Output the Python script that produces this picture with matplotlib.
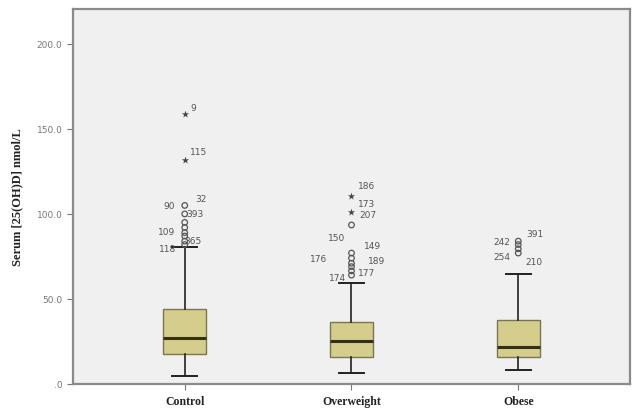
import matplotlib
matplotlib.use("Agg")
import matplotlib.pyplot as plt

# grupos y estadisticos de cada caja
grupos = ["Control", "Overweight", "Obese"]
q1 = [17.5, 16.0, 16.0]
mediana = [27.0, 25.3, 21.8]
q3 = [44.0, 36.5, 37.6]
bigote_inf = [4.5, 6.5, 8.2]
bigote_sup = [80.5, 59.5, 64.7]

# valores atipicos (circulos) y extremos (asteriscos)
atipicos_control = [105.0, 100.0, 95.0, 92.0, 89.0, 87.0, 84.0, 82.0]
atipicos_overweight = [93.5, 77.0, 74.0, 71.0, 69.0, 66.5, 64.0]
atipicos_obese = [84.0, 82.0, 79.5, 77.0]
extremos_control = [158.5, 131.5]
extremos_overweight = [110.5, 101.0]

# etiquetas de casos: (grupo, valor, texto)
casos = [
    (1, 162.5, "9"), (1, 137.0, "115"), (1, 109.0, "32"), (1, 105.0, "90"),
    (1, 100.5, "393"), (1, 89.5, "109"), (1, 84.5, "365"), (1, 79.5, "118"),
    (2, 116.5, "186"), (2, 106.0, "173"), (2, 99.5, "207"), (2, 86.0, "150"),
    (2, 81.5, "149"), (2, 73.5, "176"), (2, 72.5, "189"), (2, 65.5, "177"),
    (2, 62.5, "174"),
    (3, 88.5, "391"), (3, 84.0, "242"), (3, 75.0, "254"), (3, 72.0, "210"),
]
desplaz = {"9": 6, "115": 10, "32": 12, "90": -11, "393": 7, "109": -13,
           "365": 6, "118": -12, "186": 11, "173": 11, "207": 12, "150": -11,
           "149": 15, "176": -24, "189": 18, "177": 11, "174": -10,
           "391": 12, "242": -12, "254": -12, "210": 11}

stats = []
for i in range(3):
    stats.append({"label": grupos[i], "q1": q1[i], "med": mediana[i], "q3": q3[i],
                  "whislo": bigote_inf[i], "whishi": bigote_sup[i], "fliers": []})

fig = plt.figure(figsize=(6.37, 4.10), dpi=100)
ax = fig.add_axes([0.1146, 0.061, 0.8744, 0.9146])
ax.set_facecolor("#f0f0f0")

ax.bxp(stats, positions=[1, 2, 3], widths=0.26, patch_artist=True,
       boxprops=dict(facecolor="#d5cd8c", edgecolor="#7a7650", linewidth=1.0),
       medianprops=dict(color="#33310f", linewidth=2.2),
       whiskerprops=dict(color="#222222", linewidth=1.2),
       capprops=dict(color="#222222", linewidth=1.4), capwidths=0.15)

atipicos = [atipicos_control, atipicos_overweight, atipicos_obese]
for i, vals in enumerate(atipicos):
    ax.scatter([i + 1] * len(vals), vals, marker="o", s=16, facecolors="none",
               edgecolors="#555555", linewidths=0.9, zorder=3)
extremos = [extremos_control, extremos_overweight]
for i, vals in enumerate(extremos):
    ax.scatter([i + 1] * len(vals), vals, marker="*", s=30, color="#444444",
               linewidths=0, zorder=3)

for g, v, t in casos:
    ax.annotate(t, (g, v), xytext=(desplaz[t], 0), textcoords="offset points",
                ha="center", va="center", fontsize=6.5, color="#555555",
                family="DejaVu Sans")

ax.set_xlim(0.33, 3.67)
ax.set_ylim(0, 220.5)
ax.set_yticks([0, 50, 100, 150, 200])
ax.set_yticklabels([".0", "50.0", "100.0", "150.0", "200.0"])
ax.set_xticks([1, 2, 3])
ax.set_xticklabels(grupos, fontfamily="Liberation Serif", fontweight="bold",
                   fontsize=8.5, color="#222222")
ax.tick_params(axis="y", labelsize=6.5, labelcolor="#777777", length=4,
               color="#777777")
ax.tick_params(axis="x", length=4, color="#777777", pad=4)
for s in ax.spines.values():
    s.set_color("#8a8a8a")
    s.set_linewidth(1.6)
ax.set_ylabel("Serum [25(OH)D] nmol/L", fontfamily="Liberation Serif",
              fontweight="bold", fontsize=9, color="#222222", labelpad=10)

fig.savefig("out.png", dpi=100)
